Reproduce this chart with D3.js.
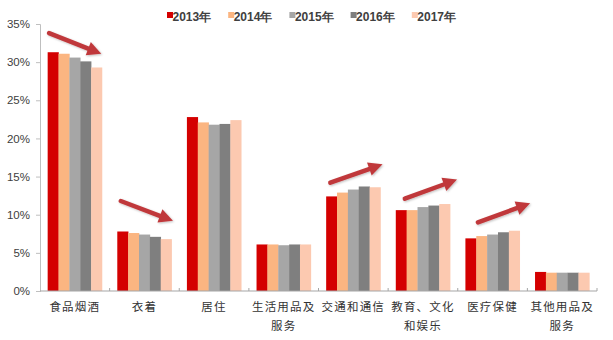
<!DOCTYPE html>
<html><head><meta charset="utf-8">
<script src="https://cdn.jsdelivr.net/npm/d3@7"></script>
<style>html,body{margin:0;padding:0;background:#fff;}svg{display:block;}</style>
</head><body>
<svg id="c" width="613" height="340"></svg>
<script>
const categories = ["食品烟酒","衣着","居住","生活用品及服务","交通和通信","教育、文化和娱乐","医疗保健","其他用品及服务"];
const labelLines = [["食品烟酒"],["衣着"],["居住"],["生活用品及","服务"],["交通和通信"],["教育、文化","和娱乐"],["医疗保健"],["其他用品及","服务"]];
const years = ["2013年","2014年","2015年","2016年","2017年"];
const colors = ["#d40000","#fbb581","#a6a6a6","#7f7f7f","#fcc9b0"];
const v2013 = [31.3, 7.8, 22.8, 6.1, 12.4, 10.6, 6.9, 2.5];
const v2014 = [31.1, 7.6, 22.1, 6.1, 12.9, 10.6, 7.2, 2.4];
const v2015 = [30.6, 7.4, 21.8, 6.0, 13.3, 11.0, 7.4, 2.4];
const v2016 = [30.1, 7.1, 21.9, 6.1, 13.7, 11.2, 7.7, 2.4];
const v2017 = [29.3, 6.8, 22.4, 6.1, 13.6, 11.4, 7.9, 2.4];
const series = [v2013, v2014, v2015, v2016, v2017];
const yTicks = [0,5,10,15,20,25,30,35];
// trend arrows: category, start/end as fraction of band, start/end value (%)
const arrows = [
  {cat:"食品烟酒", f0:0.13, f1:0.88, v0:33.8, v1:31.1},
  {cat:"衣着", f0:0.16, f1:0.91, v0:11.8, v1:9.2},
  {cat:"交通和通信", f0:0.17, f1:0.92, v0:14.2, v1:16.6},
  {cat:"教育、文化和娱乐", f0:0.24, f1:0.99, v0:12.1, v1:14.6},
  {cat:"医疗保健", f0:0.29, f1:1.04, v0:9.0, v1:11.5}
];

const svg = d3.select("#c");
const m = {l:40, r:16, t:24, b:49};
const W = 613, H = 340;
const x = d3.scaleBand().domain(categories).range([m.l, W - m.r]).paddingInner(0.22).paddingOuter(0.11);
const xOuter = d3.scaleBand().domain(categories).range([m.l, W - m.r]);
const y = d3.scaleLinear().domain([0,35]).range([H - m.b, m.t]);
const xs = d3.scaleBand().domain(years).range([0, x.bandwidth()]);

// bars
const g = svg.append("g");
series.forEach((vals, si) => {
  g.selectAll(null).data(categories).enter().append("rect")
    .attr("x", d => x(d) + xs(years[si]))
    .attr("y", (d,i) => y(vals[i]))
    .attr("width", xs.bandwidth() + 0.3)
    .attr("height", (d,i) => y(0) - y(vals[i]))
    .attr("fill", colors[si]);
});

// y axis
const ya = svg.append("g").attr("transform", `translate(${m.l},0)`)
  .call(d3.axisLeft(y).tickValues(yTicks).tickFormat(d => d + "%").tickSize(4).tickPadding(6));
ya.select(".domain").attr("stroke", "#bfbfbf");
ya.selectAll(".tick line").attr("stroke", "#bfbfbf");
ya.selectAll("text").attr("fill", "#404040").style("font-family", "Liberation Sans, Arial, sans-serif").style("font-size", "11.5px");

// x axis
const xa = svg.append("g").attr("transform", `translate(0,${y(0)})`);
xa.append("line").attr("x1", m.l).attr("x2", W - m.r).attr("stroke", "#a6a6a6").attr("stroke-width", 1.2);
xa.selectAll(null).data(categories.slice(1).concat(["end"])).enter().append("line")
  .attr("x1", (d,i) => i < categories.length - 1 ? xOuter(d) : W - m.r)
  .attr("x2", (d,i) => i < categories.length - 1 ? xOuter(d) : W - m.r)
  .attr("y1", -3).attr("y2", 0).attr("stroke", "#a6a6a6");

// x labels
const lab = svg.append("g");
categories.forEach((c, i) => {
  labelLines[i].forEach((ln, j) => {
    lab.append("text")
      .attr("x", xOuter(c) + xOuter.bandwidth()/2)
      .attr("y", y(0) + 20 + j*19)
      .attr("text-anchor", "middle")
      .attr("fill", "#333")
      .style("font-family", "Noto Sans CJK SC, sans-serif")
      .style("font-size", "11.5px")
      .style("letter-spacing", "1.2px")
      .text(ln);
  });
});

// legend
const lg = svg.append("g");
years.forEach((yr, i) => {
  const lx = 167 + i * 61.2;
  lg.append("rect").attr("x", lx).attr("y", 12).attr("width", 6).attr("height", 6).attr("fill", colors[i]);
  lg.append("text").attr("x", lx + 5.5).attr("y", 20.5).attr("fill", "#404040")
    .style("font-family", "Liberation Sans, Arial, sans-serif").style("font-size", "12px").style("font-weight", "bold")
    .text(yr);
});

// arrows
const defs = svg.append("defs");
defs.append("filter").attr("id", "sh").append("feDropShadow")
  .attr("dx", 1).attr("dy", 1).attr("stdDeviation", 1).attr("flood-color", "#000").attr("flood-opacity", 0.25);
const ag = svg.append("g").attr("filter", "url(#sh)");
arrows.forEach(a => {
  const x0 = xOuter(a.cat) + a.f0 * xOuter.bandwidth();
  const x1 = xOuter(a.cat) + a.f1 * xOuter.bandwidth();
  const y0 = y(a.v0), y1 = y(a.v1);
  const ang = Math.atan2(y1 - y0, x1 - x0);
  const hl = 14, hw = 7;
  const bx = x1 - hl * Math.cos(ang), by = y1 - hl * Math.sin(ang);
  ag.append("line").attr("x1", x0).attr("y1", y0).attr("x2", bx + 2*Math.cos(ang)).attr("y2", by + 2*Math.sin(ang))
    .attr("stroke", "#c0393b").attr("stroke-width", 4.5).attr("stroke-linecap", "round");
  const px = -Math.sin(ang), py = Math.cos(ang);
  ag.append("path")
    .attr("d", `M${x1},${y1}L${bx + hw*px},${by + hw*py}L${bx - hw*px},${by - hw*py}Z`)
    .attr("fill", "#c0393b");
});
</script>
</body></html>
